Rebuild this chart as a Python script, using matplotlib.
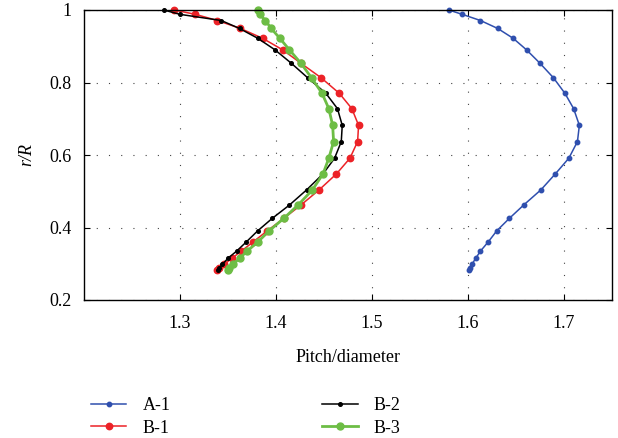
import matplotlib
matplotlib.use('Agg')
import matplotlib.pyplot as plt

plt.rcParams['font.family'] = ['Liberation Serif', 'DejaVu Serif']
plt.rcParams['font.size'] = 13

# r/R stations (shared by all series)
r_R = [1.0, 0.988, 0.971, 0.949, 0.922, 0.890, 0.853, 0.813, 0.770, 0.728,
       0.682, 0.637, 0.591, 0.548, 0.504, 0.462, 0.425, 0.391, 0.360, 0.335,
       0.315, 0.298, 0.288, 0.282]

a1 = [1.580, 1.594, 1.613, 1.631, 1.647, 1.661, 1.675, 1.689, 1.701, 1.710,
      1.716, 1.714, 1.705, 1.691, 1.676, 1.658, 1.643, 1.630, 1.621, 1.613,
      1.608, 1.604, 1.602, 1.601]
b1 = [1.294, 1.316, 1.339, 1.363, 1.386, 1.407, 1.426, 1.447, 1.466, 1.479,
      1.486, 1.485, 1.477, 1.463, 1.445, 1.426, 1.408, 1.391, 1.376, 1.364,
      1.354, 1.346, 1.341, 1.339]
b2 = [1.283, 1.300, 1.343, 1.362, 1.381, 1.399, 1.416, 1.433, 1.452, 1.464,
      1.469, 1.468, 1.461, 1.449, 1.432, 1.414, 1.396, 1.381, 1.369, 1.359,
      1.350, 1.344, 1.341, 1.340]
b3 = [1.381, 1.383, 1.389, 1.395, 1.404, 1.414, 1.426, 1.437, 1.448, 1.455,
      1.459, 1.460, 1.455, 1.449, 1.438, 1.423, 1.408, 1.393, 1.381, 1.370,
      1.362, 1.355, 1.351, 1.350]

xticks = [1.3, 1.4, 1.5, 1.6, 1.7]
yticks = [0.2, 0.4, 0.6, 0.8, 1.0]
yticklabels = ['0.2', '0.4', '0.6', '0.8', '1']

fig = plt.figure(figsize=(6.18, 4.38), dpi=100)
ax = fig.add_axes([84/618, 1-300/438, (612-84)/618, (300-10)/438])

ax.plot(a1, r_R, color='#2f4fae', lw=1.1, marker='o', ms=3.2, label='A-1', clip_on=False)
ax.plot(b1, r_R, color='#ec2227', lw=1.1, marker='o', ms=4.6, label='B-1', clip_on=False)
ax.plot(b2, r_R, color='black', lw=1.1, marker='o', ms=2.6, label='B-2', clip_on=False)
ax.plot(b3, r_R, color='#6dbd45', lw=2, marker='o', ms=5, label='B-3', clip_on=False)

ax.set_xlim(1.2, 1.75)
ax.set_ylim(0.2, 1.0)
ax.set_xticks(xticks)
ax.set_yticks(yticks)
ax.set_yticklabels(yticklabels)
ax.tick_params(direction='in', top=True, right=True, length=4, labelsize=13)
ax.tick_params(axis='x', pad=11)
ax.tick_params(axis='y', pad=9)
ax.grid(True, color='#444444', linestyle=(0, (1, 10)), lw=0.8)
for s in ax.spines.values():
    s.set_linewidth(1.0)

ax.set_xlabel('Pitch/diameter', fontsize=13, labelpad=12)
ax.set_ylabel('r/R', fontsize=13, style='italic', labelpad=10)

fig.legend(loc='upper left', bbox_to_anchor=(84/618, 1-390/438), ncol=2,
           frameon=False, fontsize=13, handlelength=1.95, columnspacing=8.4,
           handletextpad=0.9, labelspacing=0.3, borderaxespad=0)

fig.savefig('out.png', dpi=100)
